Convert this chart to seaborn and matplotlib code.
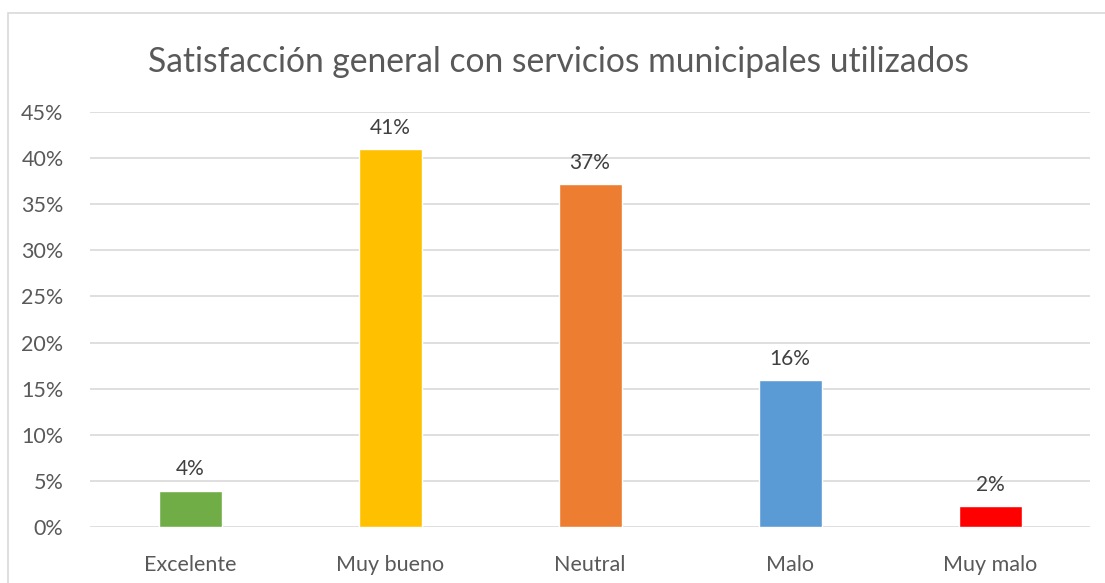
import matplotlib
matplotlib.use("Agg")
import matplotlib.pyplot as plt
import seaborn as sns
import pandas as pd
from matplotlib.patches import Rectangle

categories = ["Excelente", "Muy bueno", "Neutral", "Malo", "Muy malo"]
values = [3.95, 41.0, 37.2, 15.9, 2.25]
colors = ["#70AD47", "#FFC000", "#ED7D31", "#5B9BD5", "#FF0000"]
yticks = [0, 5, 10, 15, 20, 25, 30, 35, 40, 45]
title = "Satisfacción general con servicios municipales utilizados"

sns.set_theme(style="white")
plt.rcParams["font.family"] = ["Lato", "DejaVu Sans"]
TXT = "#595959"

W, H = 1105, 583
fig = plt.figure(figsize=(W / 100, H / 100), dpi=100)
ax = fig.add_axes([90 / W, (H - 527) / H, 1000 / W, (527 - 112) / H])

df = pd.DataFrame({"cat": categories, "val": values})
sns.barplot(data=df, x="cat", y="val", hue="cat", palette=colors, legend=False,
            width=0.315, saturation=1, ax=ax, zorder=3)

ax.set_ylim(0, 45)
ax.set_yticks(yticks)
ax.set_yticklabels([f"{t}%" for t in yticks])
ax.set_xlim(-0.5, len(categories) - 0.5)
ax.grid(axis="y", color="#D9D9D9", linewidth=1.2, zorder=0)
ax.set_axisbelow(True)
for s in ax.spines.values():
    s.set_visible(False)
ax.set_xlabel("")
ax.set_ylabel("")
ax.tick_params(axis="y", length=0, pad=19, labelsize=15.5, labelcolor=TXT)
ax.tick_params(axis="x", length=0, pad=20, labelsize=15.5, labelcolor=TXT)

for p, v in zip(ax.patches, values):
    ax.annotate(f"{round(v):.0f}%", (p.get_x() + p.get_width() / 2, p.get_height()),
                xytext=(0, 8), textcoords="offset points", ha="center", va="bottom",
                fontsize=15, color="#404040")

fig.text(558 / W, 1 - 62 / H, title, ha="center", va="center", fontsize=24.2, color=TXT)

fig.patches.append(Rectangle((8 / W, -0.1), 1.2, 1.1 - 13 / H, transform=fig.transFigure,
                             fill=False, edgecolor="#D9D9D9", linewidth=1.2))

fig.savefig("out.png", dpi=100)
